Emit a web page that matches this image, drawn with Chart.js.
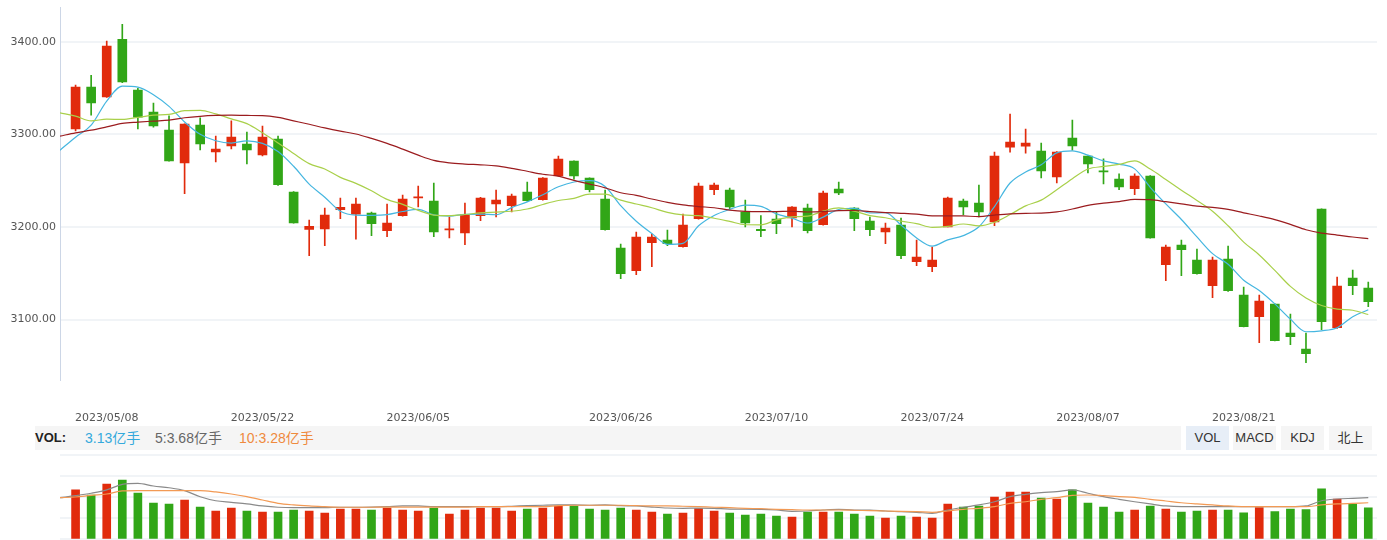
<!DOCTYPE html>
<html><head><meta charset="utf-8">
<script src="https://cdn.jsdelivr.net/npm/chart.js@4.4.1/dist/chart.umd.min.js"></script>
<style>
html,body{margin:0;padding:0;background:#fff;overflow:hidden;width:1387px;height:540px;}
#price{position:absolute;left:0;top:0;}
#vol{position:absolute;left:0;top:450px;}
#volbar{position:absolute;left:35px;top:426px;width:1146px;height:24px;background:#f5f5f5;font-family:'Liberation Sans','Noto Sans CJK SC',sans-serif;}
.t{position:absolute;top:0;line-height:24px;font-size:14px;white-space:nowrap;}
.btn{position:absolute;top:426px;width:43px;height:24px;line-height:24px;font-size:13px;text-align:center;background:#f5f5f5;color:#333;font-family:'Liberation Sans','Noto Sans CJK SC',sans-serif;}
</style></head>
<body>
<canvas id="price" width="1387" height="426"></canvas>
<div id="volbar">
  <span class="t" style="left:0;font-weight:bold;font-size:13px;color:#222;">VOL:</span>
  <span class="t" style="left:50px;color:#34a9dc;">3.13亿手</span>
  <span class="t" style="left:120px;color:#666;">5:3.68亿手</span>
  <span class="t" style="left:204px;color:#ef8a3d;">10:3.28亿手</span>
</div>
<div class="btn" style="left:1186px;background:#e7eef7;">VOL</div>
<div class="btn" style="left:1233px;">MACD</div>
<div class="btn" style="left:1281px;">KDJ</div>
<div class="btn" style="left:1329px;">北上</div>
<canvas id="vol" width="1387" height="90"></canvas>
<script>
const dates = ["2023/04/28","2023/05/04","2023/05/05","2023/05/08","2023/05/09","2023/05/10","2023/05/11","2023/05/12",
"2023/05/15","2023/05/16","2023/05/17","2023/05/18","2023/05/19","2023/05/22","2023/05/23","2023/05/24","2023/05/25","2023/05/26",
"2023/05/29","2023/05/30","2023/05/31","2023/06/01","2023/06/02","2023/06/05","2023/06/06","2023/06/07","2023/06/08","2023/06/09",
"2023/06/12","2023/06/13","2023/06/14","2023/06/15","2023/06/16","2023/06/19","2023/06/20","2023/06/21",
"2023/06/26","2023/06/27","2023/06/28","2023/06/29","2023/06/30","2023/07/03","2023/07/04","2023/07/05","2023/07/06","2023/07/07",
"2023/07/10","2023/07/11","2023/07/12","2023/07/13","2023/07/14","2023/07/17","2023/07/18","2023/07/19","2023/07/20","2023/07/21",
"2023/07/24","2023/07/25","2023/07/26","2023/07/27","2023/07/28","2023/07/31","2023/08/01","2023/08/02","2023/08/03","2023/08/04",
"2023/08/07","2023/08/08","2023/08/09","2023/08/10","2023/08/11","2023/08/14","2023/08/15","2023/08/16","2023/08/17","2023/08/18",
"2023/08/21","2023/08/22","2023/08/23","2023/08/24","2023/08/25","2023/08/28","2023/08/29","2023/08/30","2023/08/31"];
const tickIndex = [3,13,23,36,46,56,66,76];
const priceTicks = [3100,3200,3300,3400];

const open = [null,3306.0,3351.1,3340.6,3402.9,3347.8,3324.1,3304.6,3269.3,3310.0,3281.2,3287.7,3289.5,3278.0,3294.9,3237.7,3197.4,3198.0,3218.6,3213.9,3215.0,
3195.9,3212.1,3231.4,3228.0,3196.8,3193.7,3212.1,3225.0,3222.9,3237.7,3229.4,3255.3,3271.2,3252.8,3230.1,3177.2,3152.7,3183.0,3185.9,3178.6,
3208.9,3240.2,3239.8,3216.1,3197.4,3208.5,3209.9,3220.4,3202.4,3240.9,3220.4,3206.4,3194.8,3202.1,3162.4,3157.0,3200.2,3228.0,3225.8,3205.6,
3286.3,3287.4,3282.0,3254.2,3296.0,3276.6,3260.8,3251.7,3241.3,3255.0,3159.2,3180.4,3164.3,3136.5,3165.3,3126.5,3103.0,3116.7,3085.4,3068.1,
3219.3,3091.1,3144.8,3134.0];
const high = [null,3353.2,3364.0,3401.0,3419.1,3349.7,3333.8,3320.1,3311.5,3317.9,3298.2,3314.7,3302.5,3309.0,3298.2,3238.2,3207.4,3220.4,3231.2,3231.2,3216.1,
3224.7,3234.4,3244.1,3247.4,3210.7,3225.8,3232.0,3239.8,3235.5,3248.5,3253.5,3276.6,3271.6,3253.2,3239.8,3181.5,3194.5,3192.4,3196.7,3213.9,
3247.4,3247.4,3242.0,3229.0,3212.2,3216.1,3222.0,3224.7,3238.7,3248.5,3221.0,3210.7,3204.2,3209.6,3185.9,3178.3,3232.3,3230.1,3245.2,3280.9,
3321.9,3305.7,3290.6,3281.5,3315.4,3277.0,3273.6,3257.4,3257.4,3255.5,3180.4,3185.9,3176.1,3167.5,3179.4,3135.1,3126.5,3117.0,3105.9,3085.4,
3219.6,3145.9,3153.5,3140.5];
const low = [null,3303.9,3320.8,3340.0,3356.0,3306.0,3307.9,3271.0,3235.9,3283.4,3270.4,3284.4,3268.2,3276.9,3245.0,3204.0,3168.9,3179.7,3208.9,3186.9,3190.5,
3189.4,3211.8,3221.8,3189.4,3188.3,3180.8,3206.7,3211.0,3216.4,3228.0,3229.0,3255.0,3251.7,3238.0,3196.5,3144.1,3148.4,3157.0,3179.7,3178.2,
3208.5,3234.8,3219.7,3200.2,3189.4,3192.7,3200.2,3193.7,3202.0,3234.8,3195.9,3190.5,3181.9,3165.7,3158.1,3151.6,3200.0,3213.2,3211.0,3201.3,
3280.9,3279.8,3253.1,3247.7,3283.0,3258.5,3246.6,3240.2,3234.8,3188.0,3141.9,3147.3,3149.0,3123.5,3130.5,3092.0,3075.0,3076.8,3072.8,3053.3,
3089.0,3090.5,3126.8,3113.8];
const close = [null,3351.1,3334.1,3395.4,3356.8,3318.7,3309.3,3271.5,3311.1,3289.8,3284.1,3297.1,3283.4,3297.1,3245.8,3204.5,3200.6,3212.8,3221.2,3224.7,3203.5,
3204.2,3230.1,3232.6,3194.8,3198.0,3213.6,3231.2,3229.0,3233.4,3228.3,3252.8,3273.3,3255.3,3240.2,3197.0,3149.5,3189.1,3189.1,3181.9,3202.1,
3244.2,3245.2,3221.8,3204.5,3196.0,3203.5,3221.5,3195.9,3236.6,3236.9,3208.9,3197.0,3198.8,3168.9,3167.5,3164.3,3231.2,3221.8,3216.4,3276.6,
3291.7,3290.6,3260.7,3280.9,3287.7,3268.2,3259.6,3243.4,3255.0,3188.3,3178.3,3175.4,3149.5,3164.3,3131.1,3092.2,3120.0,3077.1,3081.4,3063.1,
3097.6,3136.2,3136.5,3119.2];
const ma5 = [3283,3297,3310,3336,3352.1,3351.2,3342.9,3330.3,3313.5,3300.1,3293.2,3290.7,3293.1,3290.3,3281.5,3265.6,3246.3,3232.2,3217,3212.8,
3212.6,3213.3,3216.7,3219,3213,3211.8,3213.6,3213.9,3213.2,3220.9,3227.1,3234.9,3243.4,3248.6,3250,3243.7,3223.1,3206.2,3193,3181.3,
3182.3,3201.3,3212.5,3219,3223.6,3222.3,3214.2,3209.5,3204.3,3210.7,3218.9,3220,3215.1,3215.6,3202.1,3188.2,3179.3,3186.1,3190.7,3200.2,
3222.1,3247.5,3259.4,3267.2,3280.1,3282.3,3277.6,3271.4,3268,3262.8,3242.9,3224.9,3208.1,3189.3,3171.2,3159.7,3142.5,3131.4,3116.9,3100.4,
3086.8,3087.8,3091.1,3103,3110.5];
const ma10 = [3323.3,3319.8,3314.7,3316.5,3316.2,3318.4,3320.8,3321.6,3325.7,3326.1,3322.2,3316.8,3311.7,3301.9,3290.8,3279.4,3268.5,3262.6,3253.6,3247.1,
3239.1,3229.8,3224.5,3218,3212.9,3212.2,3213.5,3215.3,3216.1,3217,3219.4,3224.3,3228.6,3230.9,3235.5,3235.4,3229,3224.8,3220.8,3215.7,
3213,3212.2,3209.4,3206,3202.4,3202.3,3207.7,3211,3211.7,3217.1,3220.6,3217.1,3212.3,3210,3206.4,3203.6,3199.6,3200.6,3203.2,3201.2,
3205.1,3213.4,3222.8,3229,3240.2,3252.2,3262.6,3265.4,3267.6,3271.4,3262.6,3251.3,3239.8,3228.6,3217,3201.3,3183.7,3169.8,3153.1,3135.8,
3123.2,3115.2,3111.3,3110,3105.4];
const ma30 = [3298.2,3301.7,3304.6,3308.2,3311.9,3313.3,3314.4,3315.4,3318,3319.6,3320.5,3320.8,3320.5,3320.3,3318.4,3314.7,3311,3307,3303.5,3300.5,
3295.7,3290.3,3284.1,3277.6,3272,3269.3,3268,3267.2,3266.1,3263.4,3260.2,3257,3254.9,3250.3,3246.4,3242.3,3237,3234.2,3230.2,3226.6,
3223.8,3222.1,3220.8,3218.3,3216.9,3216.6,3216.7,3217,3216.2,3216.6,3217.7,3217.8,3216.7,3215.6,3214.8,3213.8,3212.1,3212.1,3211.9,3211.3,
3212.9,3214.2,3214.8,3215,3216.3,3219.4,3223.3,3225.7,3227.5,3229.9,3229.5,3227.3,3224.9,3222.5,3221.2,3219,3215.3,3211.9,3208,3202.8,
3197,3193.3,3191.3,3189.2,3187.5];
const vol = [null,4.9,4.4,5.49,5.89,4.6,3.6,3.5,3.9,3.2,2.81,3.1,2.81,2.71,2.71,2.91,2.81,2.61,3.0,3.0,2.91,
3.1,2.91,2.81,3.1,2.51,2.91,3.1,3.1,2.81,3.0,3.1,3.3,3.3,3.0,2.91,3.1,2.91,2.71,2.51,2.61,
3.05,2.81,2.61,2.41,2.51,2.31,2.21,2.71,2.71,2.71,2.51,2.31,2.11,2.31,2.21,2.11,3.5,3.2,3.3,4.2,
4.7,4.7,4.1,4.0,4.9,3.6,3.2,2.71,2.91,3.3,3.0,2.71,2.81,2.91,2.91,2.64,3.14,2.74,3.0,2.94,
5.0,4.0,3.5,3.13];
const volMa5 = [4.13,4.33,4.57,4.9,5.46,5.56,5.29,5.12,4.83,4.23,3.83,3.67,3.51,3.31,3.18,3.14,3.14,3.14,3.18,3.18,
3.2,3.24,3.31,3.31,3.24,3.24,3.24,3.24,3.24,3.28,3.34,3.38,3.41,3.41,3.38,3.41,3.34,3.31,3.2,3.11,
3.08,3.1,3.08,3.0,3.0,2.98,2.91,2.78,2.81,2.91,2.98,2.91,2.91,2.81,2.74,2.68,2.58,2.91,3.18,3.41,
3.73,4.23,4.47,4.63,4.73,4.9,4.57,4.23,3.97,3.73,3.51,3.31,3.24,3.24,3.24,3.24,3.24,3.24,3.24,3.24,
3.31,3.83,4.0,4.07,4.13];
const volMa10 = [4.13,4.2,4.37,4.5,4.8,4.83,4.83,4.83,4.83,4.83,4.7,4.5,4.23,3.9,3.57,3.41,3.31,3.24,3.18,3.18,
3.18,3.2,3.2,3.2,3.2,3.2,3.2,3.24,3.24,3.24,3.24,3.24,3.34,3.38,3.38,3.38,3.38,3.34,3.31,3.31,
3.28,3.24,3.18,3.14,3.08,3.04,2.98,2.94,2.91,2.91,2.91,2.88,2.84,2.81,2.78,2.74,2.68,2.81,2.98,3.08,
3.24,3.57,3.73,3.97,4.13,4.37,4.4,4.33,4.23,4.17,3.97,3.8,3.63,3.51,3.41,3.31,3.24,3.24,3.24,3.24,
3.24,3.41,3.51,3.57,3.63];
const volTicks = [0,2.1,4.2,6.3,8.4];

const RED = '#e12b0c', GREEN = '#31a617';
const X_MAX = 84.56;
const idxs = close.map((c,i)=>i).filter(i=>close[i]!==null);
const candleColors = idxs.map(i => close[i] >= open[i] ? RED : GREEN);
const pts = arr => arr.map((v,i)=>({x:i,y:v}));
const tickFont = {family:'DejaVu Sans', size:11};
const gridCol = '#f1f4f7';
const noPad = s => { s.paddingTop = 0; s.paddingBottom = 0; };
const lineDs = (data,color,order) => ({type:'line', data:pts(data), borderColor:color, borderWidth:1.2, pointRadius:0,
  cubicInterpolationMode:'monotone', fill:false, order:order});

new Chart(document.getElementById('price'), {
  type:'bar',
  data:{datasets:[
    lineDs(ma30,'#9b1c1f',0),
    lineDs(ma10,'#a9d04a',0),
    lineDs(ma5,'#45b6e0',0),
    {type:'bar', data: idxs.map(i=>({x:i,y:[open[i],close[i]]})), backgroundColor:candleColors,
     barThickness:9, grouped:false, minBarLength:1, order:1},
    {type:'bar', data: idxs.map(i=>({x:i,y:[low[i],high[i]]})), backgroundColor:candleColors,
     barThickness:1, grouped:false, order:2}
  ]},
  options:{
    responsive:false, animation:false, events:[],
    plugins:{legend:{display:false}, tooltip:{enabled:false}},
    layout:{padding:{top:7,right:10,left:0,bottom:0}},
    scales:{
      x:{type:'linear', min:0, max:X_MAX, offset:false,
         grid:{display:false, drawTicks:false}, border:{display:false},
         afterBuildTicks:s=>{s.ticks = tickIndex.map(v=>({value:v}));},
         afterFit:s=>{s.height = 46.5;},
         ticks:{callback:v=>dates[v], padding:32, color:'#555', font:tickFont, maxRotation:0, autoSkip:false}},
      y:{type:'linear', min:3035.2, max:3437.7,
         afterBuildTicks:s=>{s.ticks = priceTicks.map(v=>({value:v}));},
         afterFit:s=>{s.width = 60; noPad(s);},
         grid:{color:gridCol, lineWidth:2, drawTicks:false},
         border:{display:true, color:'#ccd6e6', width:1},
         ticks:{callback:v=>v.toFixed(2), padding:4, color:'#555', font:tickFont}}
    }
  }
});

new Chart(document.getElementById('vol'), {
  type:'bar',
  data:{datasets:[
    lineDs(volMa10,'#f29a55',0),
    lineDs(volMa5,'#8a8a8a',0),
    {type:'bar', data: idxs.map(i=>({x:i,y:vol[i]})), backgroundColor:candleColors,
     barThickness:8, grouped:false, order:1}
  ]},
  options:{
    responsive:false, animation:false, events:[],
    plugins:{legend:{display:false}, tooltip:{enabled:false}},
    layout:{padding:{top:4.7,right:10,left:0,bottom:0.7}},
    scales:{
      x:{type:'linear', min:0, max:X_MAX, offset:false, display:false},
      y:{type:'linear', min:0, max:8.4,
         afterBuildTicks:s=>{s.ticks = volTicks.map(v=>({value:v}));},
         afterFit:s=>{s.width = 60; noPad(s);},
         grid:{color:gridCol, lineWidth:2, drawTicks:false},
         border:{display:false},
         ticks:{display:false}}
    }
  }
});
</script>
</body></html>
